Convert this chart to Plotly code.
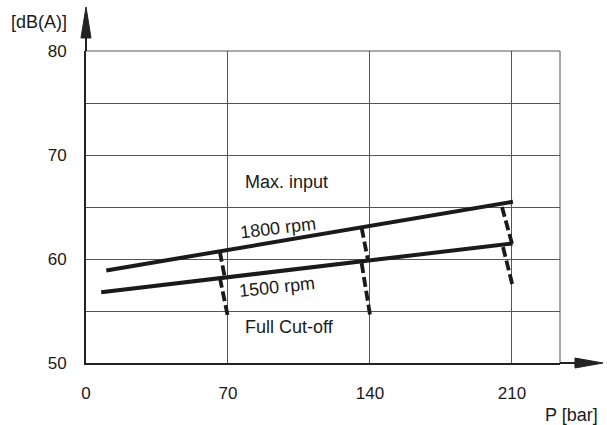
import plotly.graph_objects as go

# ---- data ----
x_ticks = [0, 70, 140, 210]
y_ticks = [50, 60, 70, 80]
y_minor = [55, 65, 75]
x_range = [0, 233.7]
y_range = [50, 80]

rpm1800_x = [10, 210.5]
rpm1800_y = [58.9, 65.5]
rpm1500_x = [7.5, 210.3]
rpm1500_y = [56.8, 61.5]

# cut-off dashed segments: upper (1800 -> 1500 line) and lower (1500 line -> full cut-off)
cut_upper_x = [[66.0, 68.5], [135.9, 139.0], [205.1, 210.5]]
cut_upper_y = [[60.7, 58.15], [63.0, 59.9], [65.0, 61.15]]
cut_lower_x = [[66.0, 70.1], [135.9, 140.3], [205.6, 210.5]]
cut_lower_y = [[58.2, 54.3], [59.6, 54.3], [61.15, 57.3]]

labels_text = ["Max. input", "1800 rpm", "1500 rpm", "Full Cut-off"]
labels_x = [77.2, 94.6, 94.4, 77.6]
labels_y = [67.43, 63.0, 57.34, 53.46]

FONT = "Liberation Sans, Arial, sans-serif"
INK = "#1a1a1a"

fig = go.Figure()

fig.add_trace(go.Scatter(x=rpm1800_x, y=rpm1800_y, mode="lines",
                         line=dict(color=INK, width=4), hoverinfo="skip"))
fig.add_trace(go.Scatter(x=rpm1500_x, y=rpm1500_y, mode="lines",
                         line=dict(color=INK, width=4), hoverinfo="skip"))
for xs, ys in list(zip(cut_upper_x, cut_upper_y)) + list(zip(cut_lower_x, cut_lower_y)):
    fig.add_trace(go.Scatter(x=xs, y=ys, mode="lines",
                             line=dict(color=INK, width=3.8, dash="10px,4px"),
                             hoverinfo="skip"))

# text labels
for t, lx, ly in zip(labels_text, labels_x, labels_y):
    if "rpm" in t:
        ang = -7 if t.startswith("18") else -6
        fig.add_annotation(x=lx, y=ly, text=t, showarrow=False, textangle=ang,
                           xanchor="center", yanchor="middle",
                           font=dict(family=FONT, size=18, color=INK))
    else:
        fig.add_annotation(x=lx, y=ly, text=t, showarrow=False,
                           xanchor="left", yanchor="middle",
                           font=dict(family=FONT, size=18, color=INK))

# axis titles
fig.add_annotation(xref="paper", yref="paper", x=-0.0359, y=1.093, text="[dB(A)]",
                   showarrow=False, xanchor="right", yanchor="middle",
                   font=dict(family=FONT, size=18, color=INK))
fig.add_annotation(xref="paper", yref="paper", x=1.0844, y=-0.167, text="P [bar]",
                   showarrow=False, xanchor="right", yanchor="middle",
                   font=dict(family=FONT, size=18, color=INK))

# frame (top & right) thin
fig.add_shape(type="line", xref="paper", yref="paper", x0=0, x1=1, y0=1, y1=1,
              line=dict(color="#555", width=1))
fig.add_shape(type="line", xref="paper", yref="paper", x0=1, x1=1, y0=0, y1=1,
              line=dict(color="#555", width=1))
# axis extensions with arrow heads
fig.add_shape(type="line", xref="paper", yref="paper", x0=0, x1=0, y0=1, y1=1.05,
              line=dict(color="#222", width=2))
fig.add_shape(type="path", xref="paper", yref="paper",
              path="M -0.0106 1.0417 L 0.0106 1.0417 L 0 1.141 Z",
              fillcolor="#222", line=dict(color="#222", width=1))
fig.add_shape(type="line", xref="paper", yref="paper", x0=1, x1=1.04, y0=0, y1=0,
              line=dict(color="#222", width=2))
fig.add_shape(type="path", xref="paper", yref="paper",
              path="M 1.0316 -0.016 L 1.0316 0.016 L 1.0907 0 Z",
              fillcolor="#222", line=dict(color="#222", width=1))

fig.update_layout(
    width=607, height=425,
    margin=dict(l=86, r=47, t=51, b=62),
    paper_bgcolor="white", plot_bgcolor="white",
    showlegend=False,
    font=dict(family=FONT, size=17, color=INK),
    xaxis=dict(range=x_range, tickvals=x_ticks, showgrid=True, gridcolor="#555",
               gridwidth=1, showline=True, linecolor="#222", linewidth=2,
               zeroline=False, ticks="", ticklabelstandoff=14,
               tickfont=dict(family=FONT, size=17, color=INK), fixedrange=True),
    yaxis=dict(range=y_range, tickvals=y_ticks, showgrid=True, gridcolor="#555",
               gridwidth=1, showline=True, linecolor="#222", linewidth=2,
               zeroline=False, ticks="", ticklabelstandoff=14,
               minor=dict(tickvals=y_minor, showgrid=True, gridcolor="#555", gridwidth=1),
               tickfont=dict(family=FONT, size=17, color=INK), fixedrange=True),
)

fig.write_html("out.html", config={"displayModeBar": False},
               post_script="document.body.style.margin='0';document.body.style.overflow='hidden';")
